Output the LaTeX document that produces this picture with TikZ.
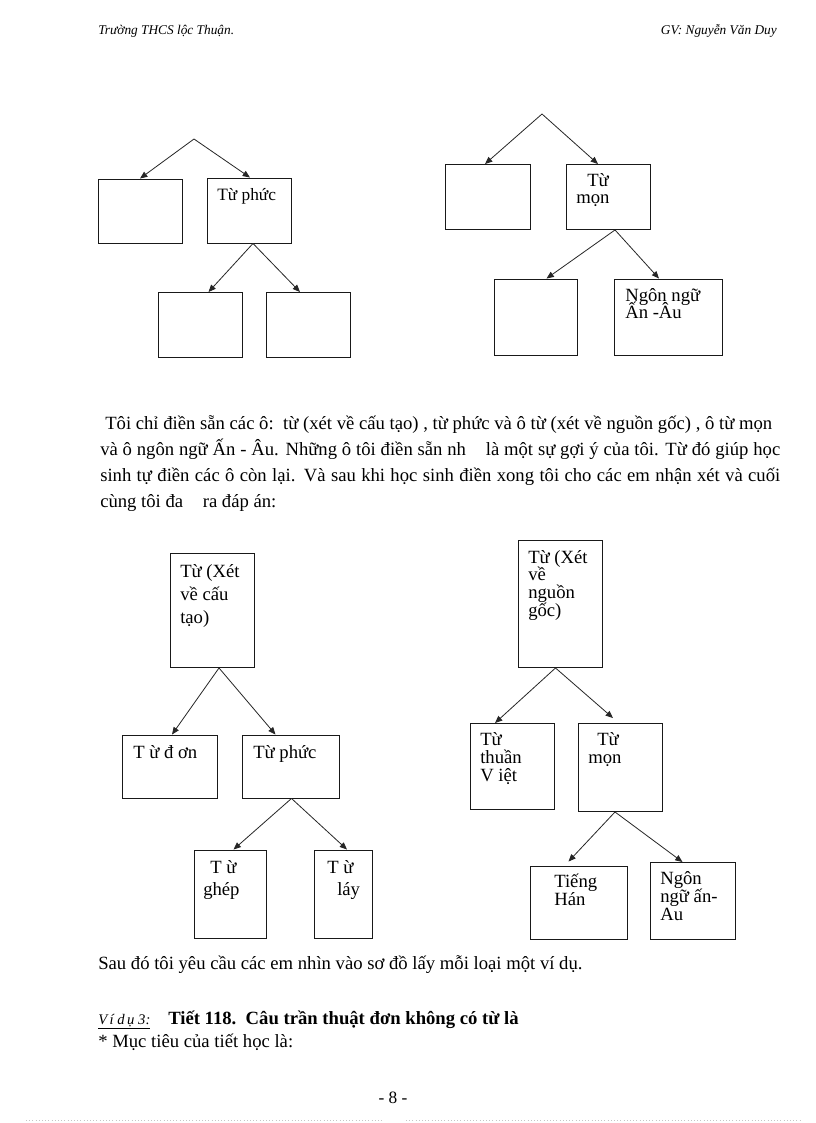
\documentclass[tikz,border=0pt]{standalone}
\usepackage{fontspec}
\setmainfont{Liberation Serif}
\usetikzlibrary{arrows.meta,calc}
\begin{document}
\begin{tikzpicture}[x=0.75pt,y=-0.75pt,
  box/.style 2 args={draw=black!90, line width=0.7pt, inner sep=0pt, minimum width=#1*0.75pt, minimum height=#2*0.75pt},
  conn/.style={draw=black!85, line width=0.6pt, -{Triangle[length=5.5pt,width=4.5pt]}},
  bt/.style={anchor=base west, inner sep=0pt, font=\fontsize{14}{17}\selectfont},
  tx/.style={anchor=base west, inner sep=0pt, font=\fontsize{14}{16}\selectfont},
  hd/.style={inner sep=0pt, font=\fontsize{10}{12}\selectfont\itshape}]
\useasboundingbox (0,0) rectangle (816,1123);
\fill[white] (0,0) rectangle (816,1123);

% header
\node[hd, anchor=base west] (h1) at (98,35) {Trường THCS lộc Thuận.};
\node[hd, anchor=base east] (h2) at (777,35) {GV: Nguyễn Văn Duy};

% ---------- top-left diagram ----------
\coordinate (ta) at (194,139);
\node[box={84}{64}] (tl1) at (140,211) {};
\node[box={84}{65}] (tl2) at (249,210.5) {};
\node[box={84}{65}] (tl3) at (200.5,325) {};
\node[box={84}{65}] (tl4) at (308,325) {};
\node[bt, font=\fontsize{13}{16}\selectfont] (tl2t) at (217,201) {Từ phức};
\draw[conn] (ta) -- (tl1.north);
\draw[conn] (ta) -- ($(tl2.north)+(1,0)$);
\draw[conn] ($(tl2.south)+(4,0)$) -- ($(tl3.north)+(8,0)$);
\draw[conn] ($(tl2.south)+(4,0)$) -- ($(tl4.north)+(-8,0)$);

% ---------- top-right diagram ----------
\coordinate (ra) at (542,114);
\node[box={85}{65}] (tr1) at (488,197) {};
\node[box={84}{65}] (tr2) at (608,197) {};
\node[box={83}{76}] (tr3) at (535.5,317) {};
\node[box={108}{76}] (tr4) at (668,317) {};
\node[bt] (tr2a) at (587,187) {Từ};
\node[bt] (tr2b) at (576,204) {mọn};
\node[bt] (tr4a) at (625,301) {Ngôn ngữ};
\node[bt] (tr4b) at (625,318) {Ấn -Âu};
\draw[conn] (ra) -- ($(tr1.north)+(-3,0)$);
\draw[conn] (ra) -- ($(tr2.north)+(-10,0)$);
\draw[conn] ($(tr2.south)+(7,0)$) -- ($(tr3.north)+(11,0)$);
\draw[conn] ($(tr2.south)+(7,0)$) -- ($(tr4.north)+(-9,0)$);

% ---------- paragraph ----------
\node[tx] (p1) at (105,429) {Tôi chỉ điền sẵn các ô:\ \ từ (xét về cấu tạo) , từ phức và ô từ (xét về nguồn gốc) , ô từ mọn};
\node[tx] (p2) at (100,455) {\makebox[510pt][s]{và ô ngôn ngữ Ấn - Âu. Những ô tôi điền sẵn nh\hspace{0.8em} là một sự gợi ý của tôi. Từ đó giúp học}};
\node[tx] (p3) at (100,481) {\makebox[510pt][s]{sinh tự điền các ô còn lại. Và sau khi học sinh điền xong tôi cho các em nhận xét và cuối}};
\node[tx] (p4) at (100,507) {cùng tôi đa\hspace{0.8em} ra đáp án:};

% ---------- bottom-left diagram ----------
\node[box={84}{114}] (bl0) at (212,610.5) {};
\node[box={95}{63}] (bl1) at (170,766.5) {};
\node[box={97}{63}] (bl2) at (290.5,766.5) {};
\node[box={72}{88}] (bl3) at (230.5,894) {};
\node[box={58}{88}] (bl4) at (343,894) {};
\node[bt] (bl0a) at (180,577) {Từ (Xét};
\node[bt] (bl0b) at (180,600) {về cấu};
\node[bt] (bl0c) at (180,623) {tạo)};
\node[bt] (bl1t) at (133,758) {T ừ đ ơn};
\node[bt] (bl2t) at (253,758) {Từ phức};
\node[bt] (bl3a) at (210,873) {T ừ};
\node[bt] (bl3b) at (203,895) {ghép};
\node[bt] (bl4a) at (327,873) {T ừ};
\node[bt] (bl4b) at (337,895) {láy};
\draw[conn] ($(bl0.south)+(7,0)$) -- ($(bl1.north)+(2,0)$);
\draw[conn] ($(bl0.south)+(7,0)$) -- ($(bl2.north)+(-15,0)$);
\draw[conn] ($(bl2.south)+(1,0)$) -- ($(bl3.north)+(3,0)$);
\draw[conn] ($(bl2.south)+(1,0)$) -- ($(bl4.north)+(4,0)$);

% ---------- bottom-right diagram ----------
\node[box={84}{127}] (br0) at (560.5,604) {};
\node[box={84}{86}] (br1) at (512,766.5) {};
\node[box={84}{88}] (br2) at (620,767.5) {};
\node[box={97}{73}] (br3) at (578.5,902.5) {};
\node[box={85}{77}] (br4) at (692.5,901) {};
\node[bt] (br0a) at (528,563) {Từ (Xét};
\node[bt] (br0b) at (528,580) {về};
\node[bt] (br0c) at (528,598) {nguồn};
\node[bt] (br0d) at (528,616) {gốc)};
\node[bt] (br1a) at (480,745) {Từ};
\node[bt] (br1b) at (480,763) {thuần};
\node[bt] (br1c) at (480,781) {V iệt};
\node[bt] (br2a) at (597,745) {Từ};
\node[bt] (br2b) at (588,763) {mọn};
\node[bt] (br3a) at (554,887) {Tiếng};
\node[bt] (br3b) at (554,905) {Hán};
\node[bt] (br4a) at (660,884) {Ngôn};
\node[bt] (br4b) at (660,902) {ngữ ấn-};
\node[bt] (br4c) at (660,920) {Au};
\draw[conn] ($(br0.south)+(-5,0)$) -- ($(br1.north)+(-17,0)$);
\draw[conn] ($(br0.south)+(-5,0)$) -- ($(br2.north)+(-7,-5)$);
\draw[conn] ($(br2.south)+(-5,0)$) -- ($(br3.north)+(-10,-4)$);
\draw[conn] ($(br2.south)+(-5,0)$) -- ($(br4.north)+(-10,0)$);

% ---------- bottom text ----------
\node[tx] (s1) at (98,969) {Sau đó tôi yêu cầu các em nhìn vào sơ đồ lấy mỗi loại một ví dụ.};
\node[tx, font=\fontsize{11}{13}\selectfont\itshape] (v1) at (98,1024) {\underline{V\,í d\,ụ 3:}};
\node[tx, font=\fontsize{14}{16}\selectfont\bfseries] (v2) at (168,1024) {Tiết 118.\ \ Câu trần thuật đơn không có từ là};
\node[tx] (m1) at (98,1047) {* Mục tiêu của tiết học là:};

% footer
\node[inner sep=0pt, anchor=base, font=\fontsize{13}{15}\selectfont] (pg) at (393,1103) {- 8 -};
\coordinate (d1) at (26,1120);
\coordinate (d2) at (382,1120);
\coordinate (d3) at (406,1120);
\coordinate (d4) at (800,1120);
\draw[gray!45, dotted, line width=0.4pt] (d1) -- (d2);
\draw[gray!45, dotted, line width=0.4pt] (d3) -- (d4);
\end{tikzpicture}
\end{document}
